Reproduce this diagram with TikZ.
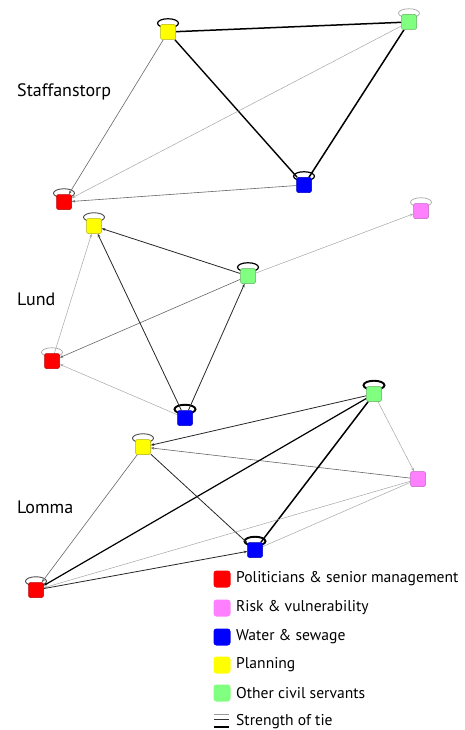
\documentclass[tikz,border=0pt]{standalone}
\usepackage{fontspec}
\setmainfont{PT Sans}
\usetikzlibrary{backgrounds,arrows.meta}
\definecolor{cred}{HTML}{FF0000}
\definecolor{cpink}{HTML}{FF80FF}
\definecolor{cblue}{HTML}{0000FF}
\definecolor{cyellow}{HTML}{FFFF00}
\definecolor{cgreen}{HTML}{80FF80}
\tikzset{
  box/.style={rectangle, rounded corners=2pt, minimum size=15pt, inner sep=0pt, line width=0.5pt},
  nred/.style={box, fill=cred, draw=cred!75!black},
  npink/.style={box, fill=cpink, draw=cpink!75!black},
  nblue/.style={box, fill=cblue, draw=cblue!75!black},
  nyellow/.style={box, fill=cyellow, draw=cyellow!70!black},
  ngreen/.style={box, fill=cgreen, draw=cgreen!70!black},
  tip/.style={-{Stealth[length=3.5pt,width=2.6pt]}},
  tieA/.style={draw=black!35, line width=0.5pt},
  tieB/.style={draw=black!60, line width=0.6pt},
  tieC/.style={draw=black!85, line width=0.8pt},
  tieD/.style={draw=black, line width=1.5pt},
  loopA/.style={draw=black!35, line width=0.7pt},
  loopB/.style={draw=black!70, line width=0.9pt},
  loopC/.style={draw=black, line width=1.2pt},
  loopD/.style={draw=black, line width=1.9pt},
  town/.style={anchor=west, font=\fontsize{18}{21}\selectfont, inner sep=0pt},
  legbox/.style={rectangle, rounded corners=3pt, minimum size=17pt, inner sep=0pt},
  legtext/.style={anchor=west, font=\fontsize{15.6}{19}\selectfont, inner sep=0pt},
}
\begin{document}
\begin{tikzpicture}[x=1pt, y=-1pt]
\useasboundingbox (0,0) rectangle (464,730);
% Staffanstorp
\node[nyellow] (sY) at (168,32) {};
\node[ngreen]  (sG) at (409,22) {};
\node[nblue]   (sB) at (304,185) {};
\node[nred]    (sR) at (64,202) {};
% Lund
\node[nyellow] (lY) at (94,226) {};
\node[npink]   (lP) at (421,211) {};
\node[ngreen]  (lG) at (248,276) {};
\node[nred]    (lR) at (52,361) {};
\node[nblue]   (lB) at (185,418) {};
% Lomma
\node[ngreen]  (mG) at (374,394) {};
\node[nyellow] (mY) at (143,447) {};
\node[npink]   (mP) at (418,479) {};
\node[nblue]   (mB) at (255,550) {};
\node[nred]    (mR) at (36,590) {};
% town labels
\node[town] (tS) at (17,92) {Staffanstorp};
\node[town] (tL) at (17,299) {Lund};
\node[town] (tM) at (17,507) {Lomma};
% legend
\node[legbox, fill=cred]    (k1) at (222,579) {};
\node[legbox, fill=cpink]   (k2) at (222,608) {};
\node[legbox, fill=cblue]   (k3) at (222,637) {};
\node[legbox, fill=cyellow] (k4) at (222,665) {};
\node[legbox, fill=cgreen]  (k5) at (222,693) {};
\node[legtext] (t1) at (236,579) {Politicians \& senior management};
\node[legtext] (t2) at (236,608) {Risk \& vulnerability};
\node[legtext] (t3) at (236,637) {Water \& sewage};
\node[legtext] (t4) at (236,665) {Planning};
\node[legtext] (t5) at (236,693) {Other civil servants};
\node[legtext] (t6) at (236,722) {Strength of tie};
\draw[draw=black!40, line width=0.7pt] (214,714) -- (229,714);
\draw[draw=black!80, line width=1pt] (214,719.5) -- (229,719.5);
\draw[draw=black, line width=2.2pt] (214,727) -- (229,727);
\begin{pgfonlayer}{background}
% self loops
\foreach \n/\s in {sY/loopC, sG/loopA, sB/loopC, sR/loopB,
                   lY/loopB, lP/loopA, lG/loopC, lR/loopA, lB/loopD,
                   mG/loopD, mY/loopB, mB/loopD, mR/loopB}
  \draw[\s] ([yshift=1pt]\n.north) ellipse [x radius=10.5pt, y radius=4.5pt];
% Staffanstorp ties
\draw[tieD] (sY) -- (sG);
\draw[tieD, line width=1.4pt] (sY) -- (sB);
\draw[tieD] (sG) -- (sB);
\draw[tieB, tip] (sY) -- (sR);
\draw[tieA, tip] (sG) -- (sR);
\draw[tieB, tip] (sB) -- (sR);
% Lund ties
\draw[tieC, tip] (lG) -- (lY);
\draw[tieA, tip] (lG) -- (lP);
\draw[tieB, tip] (lG) -- (lR);
\draw[tieA, tip] (lR) -- (lY);
\draw[tieC, tip] (lB) -- (lY);
\draw[tieC, tip] (lB) -- (lG);
\draw[tieA, tip] (lB) -- (lR);
% Lomma ties
\draw[tieC, tip] (mG) -- (mY);
\draw[tieB, tip] (mP) -- (mY);
\draw[tieA, tip] (mG) -- (mP);
\draw[tieD, line width=1.2pt, tip] (mG) -- (mR);
\draw[tieD] (mG) -- (mB);
\draw[tieB, tip] (mY) -- (mR);
\draw[tieC, tip] (mY) -- (mB);
\draw[tieA, tip] (mP) -- (mR);
\draw[tieA] (mP) -- (mB);
\draw[tieC, tip] (mR) -- (mB);
\end{pgfonlayer}
\end{tikzpicture}
\end{document}
